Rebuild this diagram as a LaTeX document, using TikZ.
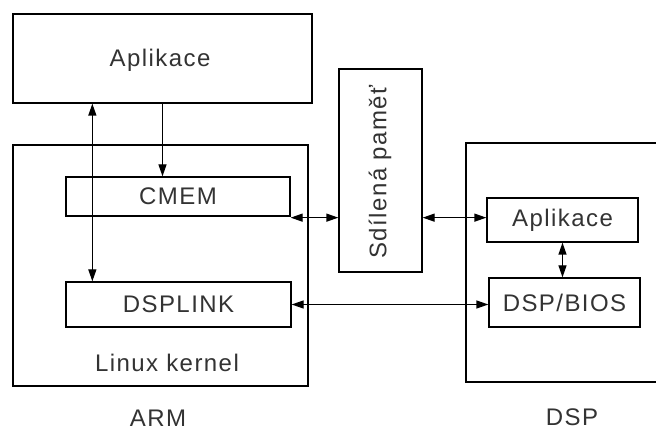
\documentclass[tikz,border=0pt]{standalone}
\usepackage{fontspec}
\setmainfont[LetterSpace=6]{Liberation Sans}
\usetikzlibrary{arrows.meta,calc}
\begin{document}
\begin{tikzpicture}[x=1pt,y=-1pt,
  box/.style={draw,line width=1.3pt,inner sep=0pt,rectangle},
  lbl/.style={font=\fontsize{24}{28}\selectfont,inner sep=0pt,text=black!80},
  tip/.style={Triangle[length=12pt,width=8pt]},
  conn/.style={line width=1.3pt,{Triangle[length=12pt,width=8pt]}-{Triangle[length=12pt,width=8pt]}},
  conn1/.style={line width=1.3pt,-{Triangle[length=12pt,width=8pt]}}]
\clip (0,0) rectangle (656,430);
\fill[white] (0,0) rectangle (656,430);
% boxes
\node[box,minimum width=299pt,minimum height=89pt] (apptop) at (162.5,58.5) {};
\node[lbl] at (160,60) {Aplikace};
\node[box,minimum width=295pt,minimum height=241pt] (arm) at (160.5,265.5) {};
\node[box,minimum width=224pt,minimum height=39pt,lbl] (cmem) at (178,196.5) {CMEM};
\node[box,minimum width=225pt,minimum height=45pt,lbl] (dsplink) at (178.5,304.5) {DSPLINK};
\node[lbl] (linux) at (167,363) {Linux kernel};
\node[lbl] (armlbl) at (158,418) {ARM};
\node[box,minimum width=83pt,minimum height=203pt] (shared) at (380.5,170.5) {};
\node[lbl,rotate=90] (sharedtxt) at (380,172) {Sdílená paměť};
\node[box,minimum width=210pt,minimum height=239pt] (dsp) at (571,262.5) {};
\node[box,minimum width=151pt,minimum height=44pt,lbl] (dspapp) at (562.5,220) {Aplikace};
\node[box,minimum width=151pt,minimum height=49pt,lbl] (dspbios) at (564.5,302.5) {DSP/BIOS};
\node[lbl] (dsplbl) at (572,417) {DSP};
% connectors
\draw[conn] ([xshift=27pt]dsplink.north west |- apptop.south) -- ([xshift=27pt]dsplink.north west);
\draw[conn1] (apptop.south) -- (apptop.south |- cmem.north);
\draw[conn] ([yshift=-1pt]cmem.south east) -- ([yshift=-1pt]cmem.south east -| shared.west);
\draw[conn] ([yshift=-1pt]cmem.south east -| shared.east) -- ([yshift=-1pt]cmem.south east -| dspapp.west);
\draw[conn] (dsplink.east) -- (dsplink.east -| dspbios.west);
\draw[conn] (dspapp.south) -- (dspapp.south |- dspbios.north);
\end{tikzpicture}
\end{document}
